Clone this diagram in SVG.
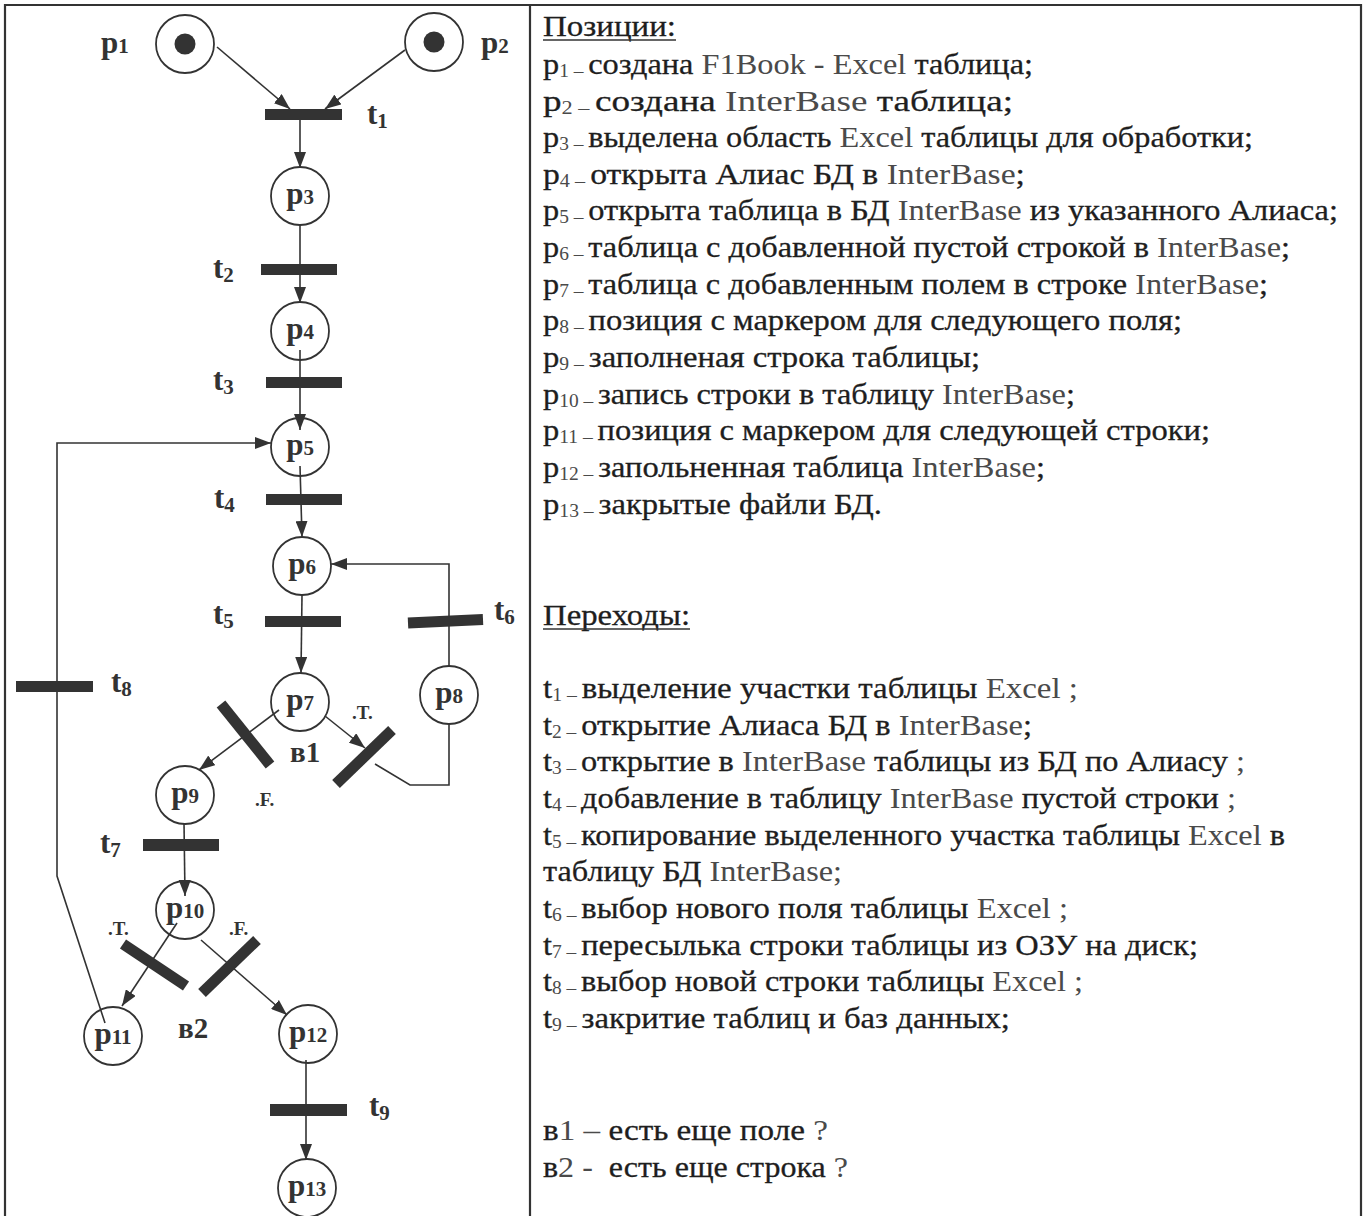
<svg xmlns="http://www.w3.org/2000/svg" width="1366" height="1216" viewBox="0 0 1366 1216">
<style>
.frame{fill:none;stroke:#333;stroke-width:2.2}
.pl{fill:none;stroke:#333;stroke-width:1.8}
.tok{fill:#333}
.bar{fill:#333}
.dbar{stroke:#333;stroke-width:11;stroke-linecap:butt}
.arc{fill:none;stroke:#333;stroke-width:1.6}
.lbl{font-family:"Liberation Serif","Times New Roman",serif;font-weight:bold;font-size:31px;fill:#333}
.lbl .s{font-size:21px}
.dec{font-family:"Liberation Serif","Times New Roman",serif;font-weight:bold;font-size:29px;fill:#333}
.sm{font-family:"Liberation Serif","Times New Roman",serif;font-weight:bold;font-size:19px;fill:#333}
.tx{font-family:"Liberation Serif","Times New Roman",serif;font-size:30px;fill:#1e1e1e;stroke:#1e1e1e;stroke-width:0.3}
.tx .l{fill:#4a4a4a;stroke:none}
.tx .s{font-size:18px;fill:#4a4a4a;stroke:none}
.ul{stroke:#333;stroke-width:1.5}
</style>
<defs>
<marker id="ah" markerUnits="userSpaceOnUse" markerWidth="17" markerHeight="12" refX="16" refY="6" orient="auto">
<path d="M0,0 L16,6 L0,12 z" fill="#333"/>
</marker>
</defs>

<g id="frame">
<path class="frame" d="M5,1220 V5 H1361 V1220 M530,5 V1220"/>
</g>

<g id="connectors">
<line class="arc" x1="217" y1="47" x2="290" y2="109" marker-end="url(#ah)"/>
<line class="arc" x1="405" y1="50" x2="325" y2="109" marker-end="url(#ah)"/>
<line class="arc" x1="300" y1="120" x2="300" y2="168" marker-end="url(#ah)"/>
<line class="arc" x1="300" y1="225" x2="300" y2="303" marker-end="url(#ah)"/>
<line class="arc" x1="300" y1="350" x2="300" y2="430" marker-end="url(#ah)"/>
<line class="arc" x1="300" y1="466" x2="302" y2="537" marker-end="url(#ah)"/>
<line class="arc" x1="302" y1="595" x2="301" y2="673" marker-end="url(#ah)"/>
<polyline class="arc" points="449,666 449,564 331,564" marker-end="url(#ah)"/>
<line class="arc" x1="325" y1="716" x2="365" y2="748" marker-end="url(#ah)"/>
<polyline class="arc" points="449,724 449,785 410,785 375,764"/>
<line class="arc" x1="279" y1="710" x2="199" y2="770" marker-end="url(#ah)"/>
<line class="arc" x1="184" y1="823" x2="185" y2="896" marker-end="url(#ah)"/>
<line class="arc" x1="177" y1="923" x2="122" y2="1006" marker-end="url(#ah)"/>
<line class="arc" x1="201" y1="940" x2="287" y2="1015" marker-end="url(#ah)"/>
<polyline class="arc" points="105,1023 57,876 57,443 271,443" marker-end="url(#ah)"/>
<line class="arc" x1="306" y1="1060" x2="306" y2="1160" marker-end="url(#ah)"/>
</g>

<g id="p1"><circle class="pl" cx="185" cy="44" r="29"/><circle class="tok" cx="185" cy="44" r="10.5"/><text class="lbl" x="101" y="53">p<tspan class="s">1</tspan></text></g>
<g id="p2"><circle class="pl" cx="434" cy="42" r="29"/><circle class="tok" cx="434" cy="42" r="10.5"/><text class="lbl" x="481" y="53">p<tspan class="s">2</tspan></text></g>
<g id="t1"><rect class="bar" x="265" y="109" width="77" height="11"/><text class="lbl" x="367" y="124">t<tspan class="s" dy="4">1</tspan></text></g>
<g id="p3"><circle class="pl" cx="300" cy="196" r="29"/><text class="lbl" x="300" y="204" text-anchor="middle">p<tspan class="s">3</tspan></text></g>
<g id="t2"><rect class="bar" x="261" y="264" width="76" height="11"/><text class="lbl" x="213" y="278">t<tspan class="s" dy="4">2</tspan></text></g>
<g id="p4"><circle class="pl" cx="300" cy="331" r="29"/><text class="lbl" x="300" y="339" text-anchor="middle">p<tspan class="s">4</tspan></text></g>
<g id="t3"><rect class="bar" x="266" y="377" width="76" height="11"/><text class="lbl" x="213" y="390">t<tspan class="s" dy="4">3</tspan></text></g>
<g id="p5"><circle class="pl" cx="300" cy="447" r="29"/><text class="lbl" x="300" y="455" text-anchor="middle">p<tspan class="s">5</tspan></text></g>
<g id="t4"><rect class="bar" x="266" y="494" width="76" height="11"/><text class="lbl" x="214" y="508">t<tspan class="s" dy="4">4</tspan></text></g>
<g id="p6"><circle class="pl" cx="302" cy="566" r="29"/><text class="lbl" x="302" y="574" text-anchor="middle">p<tspan class="s">6</tspan></text></g>
<g id="t5"><rect class="bar" x="265" y="616" width="76" height="11"/><text class="lbl" x="213" y="624">t<tspan class="s" dy="4">5</tspan></text></g>
<g id="t6"><line class="dbar" x1="408" y1="623" x2="483" y2="619.5"/><text class="lbl" x="494" y="620">t<tspan class="s" dy="4">6</tspan></text></g>
<g id="p7"><circle class="pl" cx="300" cy="702" r="29"/><text class="lbl" x="300" y="710" text-anchor="middle">p<tspan class="s">7</tspan></text></g>
<g id="p8"><circle class="pl" cx="449" cy="695" r="29"/><text class="lbl" x="449" y="703" text-anchor="middle">p<tspan class="s">8</tspan></text></g>
<g id="t8"><rect class="bar" x="16" y="681" width="77" height="11"/><text class="lbl" x="111" y="692">t<tspan class="s" dy="4">8</tspan></text></g>
<g id="b1"><line class="dbar" x1="221" y1="704" x2="270" y2="765"/><line class="dbar" x1="392" y1="730" x2="336" y2="784"/><text class="dec" x="290" y="762">в1</text><text class="sm" x="352" y="719">.T.</text><text class="sm" x="255" y="806">.F.</text></g>
<g id="p9"><circle class="pl" cx="185" cy="795" r="29"/><text class="lbl" x="185" y="803" text-anchor="middle">p<tspan class="s">9</tspan></text></g>
<g id="t7"><rect class="bar" x="143" y="839" width="76" height="12"/><text class="lbl" x="100" y="853">t<tspan class="s" dy="4">7</tspan></text></g>
<g id="p10"><circle class="pl" cx="185" cy="910" r="29"/><text class="lbl" x="185" y="918" text-anchor="middle">p<tspan class="s">10</tspan></text></g>
<g id="b2"><line class="dbar" x1="123" y1="944" x2="186" y2="986"/><line class="dbar" x1="257" y1="940" x2="202" y2="993"/><text class="dec" x="178" y="1038">в2</text><text class="sm" x="108" y="935">.T.</text><text class="sm" x="229" y="935">.F.</text></g>
<g id="p11"><circle class="pl" cx="113" cy="1036" r="29"/><text class="lbl" x="113" y="1044" text-anchor="middle">p<tspan class="s">11</tspan></text></g>
<g id="p12"><circle class="pl" cx="308" cy="1034" r="29"/><text class="lbl" x="308" y="1042" text-anchor="middle">p<tspan class="s">12</tspan></text></g>
<g id="t9"><rect class="bar" x="270" y="1104" width="77" height="12"/><text class="lbl" x="369" y="1116">t<tspan class="s" dy="4">9</tspan></text></g>
<g id="p13"><circle class="pl" cx="307" cy="1188" r="29"/><text class="lbl" x="307" y="1196" text-anchor="middle">p<tspan class="s">13</tspan></text></g>

<g id="legend">
<text class="tx" x="543" y="36" textLength="133" lengthAdjust="spacingAndGlyphs">Позиции:</text>
<line class="ul" x1="543" y1="40" x2="676" y2="40"/>
<text class="tx" x="543" y="74" textLength="490" lengthAdjust="spacingAndGlyphs">p<tspan class="s" dy="3">1 – </tspan><tspan dy="-3">создана </tspan><tspan class="l">F1Book - Excel</tspan> таблица;</text>
<text class="tx" x="543" y="111" textLength="470" lengthAdjust="spacingAndGlyphs">p<tspan class="s" dy="3">2 – </tspan><tspan dy="-3">создана </tspan><tspan class="l">InterBase</tspan> таблица;</text>
<text class="tx" x="543" y="147" textLength="710" lengthAdjust="spacingAndGlyphs">p<tspan class="s" dy="3">3 – </tspan><tspan dy="-3">выделена область </tspan><tspan class="l">Excel</tspan> таблицы для обработки;</text>
<text class="tx" x="543" y="184" textLength="482" lengthAdjust="spacingAndGlyphs">p<tspan class="s" dy="3">4 – </tspan><tspan dy="-3">открыта Алиас БД в </tspan><tspan class="l">InterBase</tspan>;</text>
<text class="tx" x="543" y="220" textLength="795" lengthAdjust="spacingAndGlyphs">p<tspan class="s" dy="3">5 – </tspan><tspan dy="-3">открыта таблица в БД </tspan><tspan class="l">InterBase</tspan> из указанного Алиаса;</text>
<text class="tx" x="543" y="257" textLength="747" lengthAdjust="spacingAndGlyphs">p<tspan class="s" dy="3">6 – </tspan><tspan dy="-3">таблица с добавленной пустой строкой в </tspan><tspan class="l">InterBase</tspan>;</text>
<text class="tx" x="543" y="294" textLength="725" lengthAdjust="spacingAndGlyphs">p<tspan class="s" dy="3">7 – </tspan><tspan dy="-3">таблица с добавленным полем в строке </tspan><tspan class="l">InterBase</tspan>;</text>
<text class="tx" x="543" y="330" textLength="639" lengthAdjust="spacingAndGlyphs">p<tspan class="s" dy="3">8 – </tspan><tspan dy="-3">позиция с маркером для следующего поля;</tspan></text>
<text class="tx" x="543" y="367" textLength="437" lengthAdjust="spacingAndGlyphs">p<tspan class="s" dy="3">9 – </tspan><tspan dy="-3">заполненая строка таблицы;</tspan></text>
<text class="tx" x="543" y="404" textLength="532" lengthAdjust="spacingAndGlyphs">p<tspan class="s" dy="3">10 – </tspan><tspan dy="-3">запись строки в таблицу </tspan><tspan class="l">InterBase</tspan>;</text>
<text class="tx" x="543" y="440" textLength="667" lengthAdjust="spacingAndGlyphs">p<tspan class="s" dy="3">11 – </tspan><tspan dy="-3"> позиция с маркером для следующей строки;</tspan></text>
<text class="tx" x="543" y="477" textLength="502" lengthAdjust="spacingAndGlyphs">p<tspan class="s" dy="3">12 – </tspan><tspan dy="-3">запольненная таблица </tspan><tspan class="l">InterBase</tspan>;</text>
<text class="tx" x="543" y="514" textLength="339" lengthAdjust="spacingAndGlyphs">p<tspan class="s" dy="3">13 – </tspan><tspan dy="-3">закрытые файли БД.</tspan></text>

<text class="tx" x="543" y="625" textLength="147" lengthAdjust="spacingAndGlyphs">Переходы:</text>
<line class="ul" x1="543" y1="629" x2="690" y2="629"/>
<text class="tx" x="543" y="698" textLength="535" lengthAdjust="spacingAndGlyphs">t<tspan class="s" dy="3">1 – </tspan><tspan dy="-3">выделение участки таблицы </tspan><tspan class="l">Excel ;</tspan></text>
<text class="tx" x="543" y="735" textLength="489" lengthAdjust="spacingAndGlyphs">t<tspan class="s" dy="3">2 – </tspan><tspan dy="-3">открытие Алиаса БД в </tspan><tspan class="l">InterBase</tspan>;</text>
<text class="tx" x="543" y="771" textLength="702" lengthAdjust="spacingAndGlyphs">t<tspan class="s" dy="3">3 – </tspan><tspan dy="-3">открытие в </tspan><tspan class="l">InterBase</tspan> таблицы из БД по Алиасу <tspan class="l">;</tspan></text>
<text class="tx" x="543" y="808" textLength="693" lengthAdjust="spacingAndGlyphs">t<tspan class="s" dy="3">4 – </tspan><tspan dy="-3">добавление в таблицу </tspan><tspan class="l">InterBase</tspan> пустой строки <tspan class="l">;</tspan></text>
<text class="tx" x="543" y="845" textLength="742" lengthAdjust="spacingAndGlyphs">t<tspan class="s" dy="3">5 – </tspan><tspan dy="-3">копирование выделенного участка таблицы </tspan><tspan class="l">Excel</tspan> в</text>
<text class="tx" x="543" y="881" textLength="299" lengthAdjust="spacingAndGlyphs">таблицу БД <tspan class="l">InterBase;</tspan></text>
<text class="tx" x="543" y="918" textLength="525" lengthAdjust="spacingAndGlyphs">t<tspan class="s" dy="3">6 – </tspan><tspan dy="-3">выбор нового поля таблицы </tspan><tspan class="l">Excel ;</tspan></text>
<text class="tx" x="543" y="955" textLength="655" lengthAdjust="spacingAndGlyphs">t<tspan class="s" dy="3">7 – </tspan><tspan dy="-3">пересылька строки таблицы из ОЗУ на диск;</tspan></text>
<text class="tx" x="543" y="991" textLength="540" lengthAdjust="spacingAndGlyphs">t<tspan class="s" dy="3">8 – </tspan><tspan dy="-3">выбор новой строки таблицы </tspan><tspan class="l">Excel ;</tspan></text>
<text class="tx" x="543" y="1028" textLength="467" lengthAdjust="spacingAndGlyphs">t<tspan class="s" dy="3">9 – </tspan><tspan dy="-3">закритие таблиц и баз данных;</tspan></text>

<text class="tx" x="543" y="1140" textLength="285" lengthAdjust="spacingAndGlyphs">в<tspan class="l">1 – </tspan>есть еще поле <tspan class="l">?</tspan></text>
<text class="tx" x="543" y="1177" textLength="305" lengthAdjust="spacingAndGlyphs" xml:space="preserve">в<tspan class="l">2 -  </tspan>есть еще строка <tspan class="l">?</tspan></text>
</g>
</svg>
